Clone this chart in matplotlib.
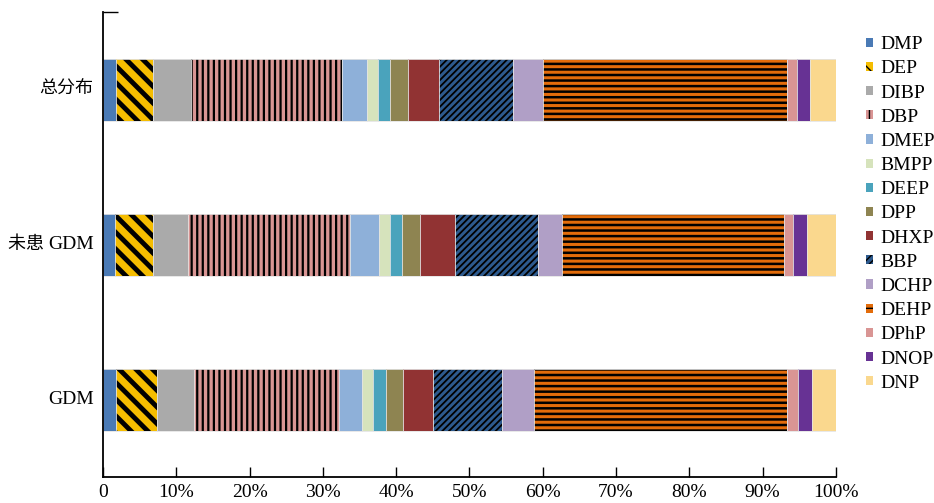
import matplotlib.pyplot as plt
import numpy as np

plt.rcParams['font.family'] = ['Liberation Serif', 'Noto Sans CJK SC']

groups = ["GDM", "未患 GDM", "总分布"]
compounds = ["DMP", "DEP", "DIBP", "DBP", "DMEP", "BMPP", "DEEP", "DPP",
             "DHXP", "BBP", "DCHP", "DEHP", "DPhP", "DNOP", "DNP"]

# 百分比 (GDM, 未患 GDM, 总分布)
gdm = [1.73, 5.68, 5.00, 19.79, 3.18, 1.41, 1.78, 2.40, 4.09, 9.33, 4.41, 34.56, 1.50, 1.82, 3.32]
non_gdm = [1.64, 5.22, 4.70, 22.14, 3.95, 1.50, 1.64, 2.46, 4.77, 11.37, 3.19, 30.33, 1.27, 1.86, 3.96]
total = [1.73, 5.05, 5.18, 20.69, 3.41, 1.50, 1.59, 2.42, 4.27, 10.05, 4.10, 33.37, 1.36, 1.73, 3.55]

colors = ["#4a7ab5", "#f5bd00", "#aaaaaa", "#d99594", "#8eb0d9", "#d6e3bc",
          "#4aa3bc", "#8e8451", "#913333", "#2d5a8e", "#b09fc6", "#e36c0a",
          "#d99594", "#673294", "#fad88e"]
hatches = [None, "\\\\", None, "|||", None, None, None, None,
           None, "/////", None, "---", None, None, None]
hatch_lw = [1, 3.5, 1, 1.6, 1, 1, 1, 1, 1, 1.3, 1, 1.8, 1, 1, 1]

data = np.array([gdm, non_gdm, total])
y = np.arange(len(groups))

fig, ax = plt.subplots(figsize=(9.34, 5.03), dpi=100)
fig.subplots_adjust(left=0.1103, right=0.895, bottom=0.0517, top=0.976)

left = np.zeros(len(groups))
handles = []
for i, name in enumerate(compounds):
    plt.rcParams['hatch.linewidth'] = hatch_lw[i]
    b = ax.barh(y, data[:, i], left=left, height=0.4, color=colors[i],
                hatch=hatches[i], edgecolor="black" if hatches[i] else colors[i],
                linewidth=0, label=name)
    ax.barh(y, data[:, i], left=left, height=0.4, fill=False,
            edgecolor="#e4e4e4", linewidth=0.6)
    handles.append(b)
    left += data[:, i]

ax.set_xlim(0, 100)
ax.set_ylim(-0.5, 2.5)
ax.set_xticks(np.arange(0, 101, 10))
ax.set_xticklabels(["0"] + [f"{v}%" for v in range(10, 101, 10)], fontsize=14)
ax.set_yticks(y)
ax.set_yticklabels([])
ax.tick_params(axis="x", direction="in", length=7, width=1, pad=5)
ax.tick_params(axis="y", length=0)
ax.set_yticks([2.5], minor=True)
ax.tick_params(axis="y", which="minor", direction="in", length=11, width=1)
for s in ["top", "right"]:
    ax.spines[s].set_visible(False)
for s in ["left", "bottom"]:
    ax.spines[s].set_linewidth(1.3)

# y 轴标签: 中文和英文分开设字号
for yi, g in zip(y, groups):
    parts = g.split(" ")
    latin = parts[-1] if parts[-1].isascii() else ""
    cjk = " ".join(parts[:-1]) if latin else g
    if latin:
        t = ax.annotate(latin, xy=(0, yi), xycoords=("axes fraction", "data"),
                        xytext=(-9, 0), textcoords="offset pixels",
                        ha="right", va="center", fontsize=14)
        if cjk:
            ax.annotate(cjk + " ", xy=(0, 0.5), xycoords=t, ha="right",
                        va="center", fontsize=13)
    else:
        ax.annotate(cjk, xy=(0, yi), xycoords=("axes fraction", "data"),
                    xytext=(-10, 0), textcoords="offset pixels",
                    ha="right", va="center", fontsize=13)

ax.legend(handles=handles, loc="upper left", bbox_to_anchor=(1.03, 0.965),
          frameon=False, fontsize=14, handlelength=0.35, handleheight=0.35,
          handletextpad=0.4, labelspacing=0.37, borderaxespad=0)

fig.savefig("out.png", dpi=100)
